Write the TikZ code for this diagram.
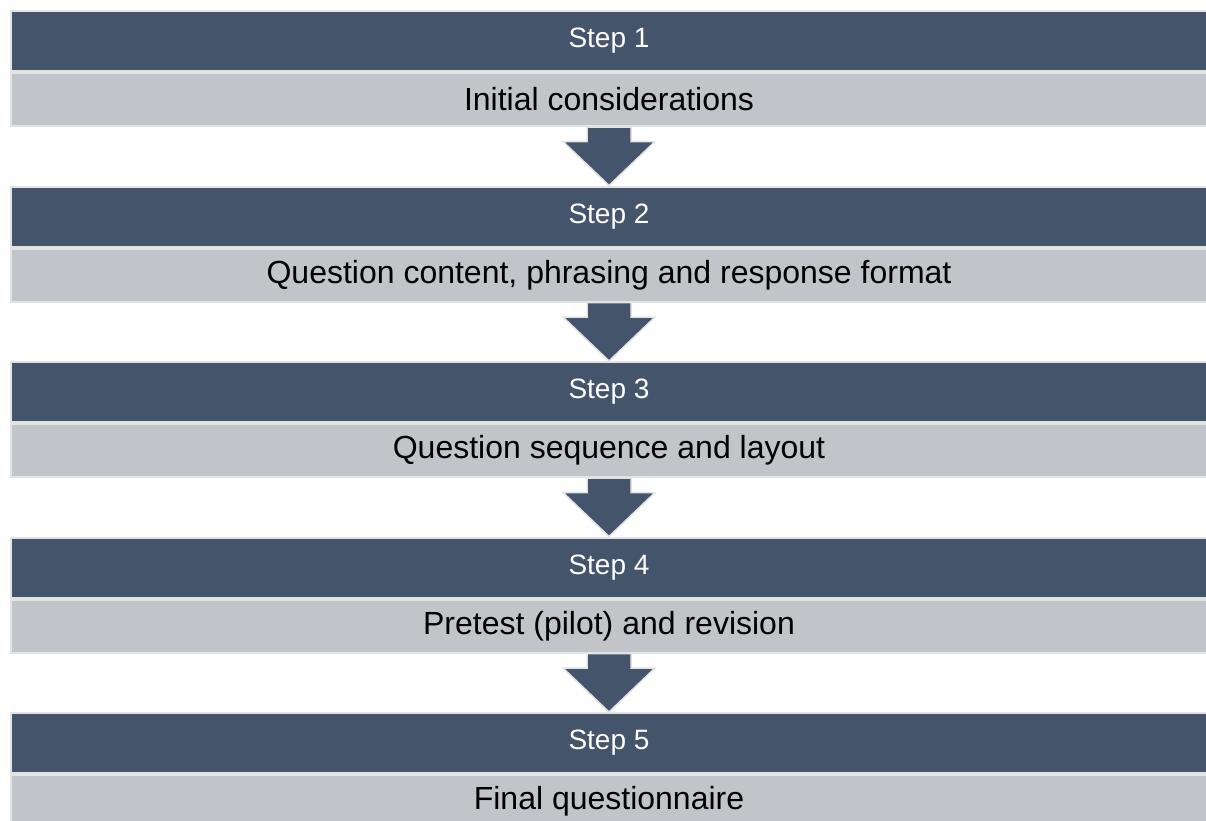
\documentclass[tikz,border=0pt]{standalone}
\usepackage{fontspec}
\setmainfont{Liberation Sans}
\usetikzlibrary{calc}
\definecolor{darkbox}{HTML}{44546A}
\definecolor{lightbox}{HTML}{C1C4C9}
\definecolor{edgegrey}{HTML}{E2E3E5}
\begin{document}
\begin{tikzpicture}[x=1pt,y=-1pt,
  stephead/.style={rectangle, fill=darkbox, draw=edgegrey, line width=2pt,
    minimum width=1196pt, minimum height=60pt, inner sep=0pt, anchor=north,
    text=white, font=\fontsize{28}{32}\selectfont},
  stepbody/.style={rectangle, fill=lightbox, draw=edgegrey, line width=2pt,
    minimum width=1196pt, minimum height=53pt, inner sep=0pt, anchor=north,
    text=black, font=\fontsize{32}{36}\selectfont},
  downarrow/.style={fill=darkbox, draw=edgegrey, line width=1.5pt, line join=miter}]
\useasboundingbox (0,0) rectangle (1206,820);
\clip (0,0) rectangle (1206,820);
\foreach \i/\t/\b in {1/{Step 1}/{Initial considerations},
                      2/{Step 2}/{Question content, phrasing and response format},
                      3/{Step 3}/{Question sequence and layout},
                      4/{Step 4}/{Pretest (pilot) and revision},
                      5/{Step 5}/{Final questionnaire}}{
  \pgfmathsetmacro{\ytop}{10+175.5*(\i-1)}
  \node[stephead] (h\i) at (609,\ytop) {\t};
  \node[stepbody] (b\i) at (h\i.south) {\b};
}
\foreach \i [evaluate=\i as \j using int(\i+1)] in {1,2,3,4}{
  \draw[downarrow]
    ($(b\i.south)+(-22,0)$) -- ($(b\i.south)+(22,0)$)
    -- ($(h\j.north)+(22,-44)$) -- ($(h\j.north)+(46,-44)$)
    -- (h\j.north) -- ($(h\j.north)+(-46,-44)$)
    -- ($(h\j.north)+(-22,-44)$) -- cycle;
}
\end{tikzpicture}
\end{document}
